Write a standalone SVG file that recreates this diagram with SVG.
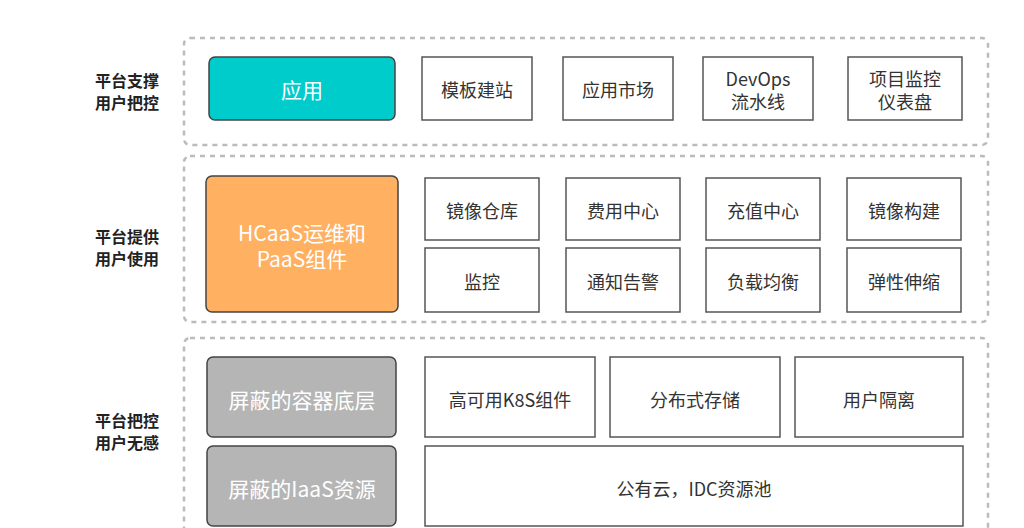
<svg xmlns="http://www.w3.org/2000/svg" width="1024" height="528" viewBox="0 0 1024 528">
<style>
text{font-family:"Noto Sans CJK SC","Open Sans",sans-serif;text-anchor:middle;dominant-baseline:central}
.grp{fill:#fff;stroke:#bbb;stroke-width:2.5;stroke-dasharray:5 5}
.w{fill:#fff;stroke:#555;stroke-width:1.5}
.wt{font-size:18px;fill:#333}
.ct{font-size:21px;fill:#fff}
.lbl{font-size:16px;font-weight:bold;fill:#222}
.c{stroke:#444;stroke-width:1.5}
</style>
<rect width="1024" height="528" fill="#fff"/>
<rect class="grp" x="184" y="38" width="804" height="107" rx="6"/>
<rect class="grp" x="184" y="156" width="804" height="166" rx="6"/>
<rect class="grp" x="184" y="338" width="804" height="200" rx="6"/>
<text class="lbl" x="127" y="80">平台支撑</text><text class="lbl" x="127" y="102">用户把控</text>
<text class="lbl" x="127" y="236">平台提供</text><text class="lbl" x="127" y="258">用户使用</text>
<text class="lbl" x="127" y="420">平台把控</text><text class="lbl" x="127" y="442">用户无感</text>
<g id="app"><rect class="c" x="209" y="57" width="186" height="63" rx="6" fill="#00cccc"/><text class="ct" x="302" y="89">应用</text></g>
<g id="n1"><rect class="w" x="422" y="57" width="110" height="63"/><text class="wt" x="477" y="89">模板建站</text></g>
<g id="n2"><rect class="w" x="563" y="57" width="110" height="63"/><text class="wt" x="618" y="89">应用市场</text></g>
<g id="n3"><rect class="w" x="703" y="57" width="110" height="63"/><text class="wt" x="758" y="78">DevOps</text><text class="wt" x="758" y="101">流水线</text></g>
<g id="n4"><rect class="w" x="848" y="57" width="114" height="63"/><text class="wt" x="905" y="78">项目监控</text><text class="wt" x="905" y="101">仪表盘</text></g>
<g id="hcaas"><rect class="c" x="206" y="176" width="192" height="136" rx="6" fill="#ffb061"/><text class="ct" x="302" y="232">HCaaS运维和</text><text class="ct" x="302" y="258">PaaS组件</text></g>
<g id="m1"><rect class="w" x="425" y="178" width="114" height="62"/><text class="wt" x="482" y="210">镜像仓库</text></g>
<g id="m2"><rect class="w" x="566" y="178" width="114" height="62"/><text class="wt" x="623" y="210">费用中心</text></g>
<g id="m3"><rect class="w" x="706" y="178" width="114" height="62"/><text class="wt" x="763" y="210">充值中心</text></g>
<g id="m4"><rect class="w" x="847" y="178" width="114" height="62"/><text class="wt" x="904" y="210">镜像构建</text></g>
<g id="m5"><rect class="w" x="425" y="248" width="114" height="64"/><text class="wt" x="482" y="281">监控</text></g>
<g id="m6"><rect class="w" x="566" y="248" width="114" height="64"/><text class="wt" x="623" y="281">通知告警</text></g>
<g id="m7"><rect class="w" x="706" y="248" width="114" height="64"/><text class="wt" x="763" y="281">负载均衡</text></g>
<g id="m8"><rect class="w" x="847" y="248" width="114" height="64"/><text class="wt" x="904" y="281">弹性伸缩</text></g>
<g id="k8sbase"><rect class="c" x="207" y="357" width="189" height="80" rx="6" fill="#b5b5b5"/><text class="ct" x="302" y="399">屏蔽的容器底层</text></g>
<g id="iaas"><rect class="c" x="207" y="446" width="189" height="80" rx="6" fill="#b5b5b5"/><text class="ct" x="302" y="488">屏蔽的IaaS资源</text></g>
<g id="b1"><rect class="w" x="425" y="357" width="170" height="80"/><text class="wt" x="510" y="399">高可用K8S组件</text></g>
<g id="b2"><rect class="w" x="610" y="357" width="170" height="80"/><text class="wt" x="695" y="399">分布式存储</text></g>
<g id="b3"><rect class="w" x="795" y="357" width="168" height="80"/><text class="wt" x="879" y="399">用户隔离</text></g>
<g id="b4"><rect class="w" x="425" y="446" width="538" height="80"/><text class="wt" x="694" y="488">公有云，IDC资源池</text></g>
<g id="connectors"/>
</svg>
